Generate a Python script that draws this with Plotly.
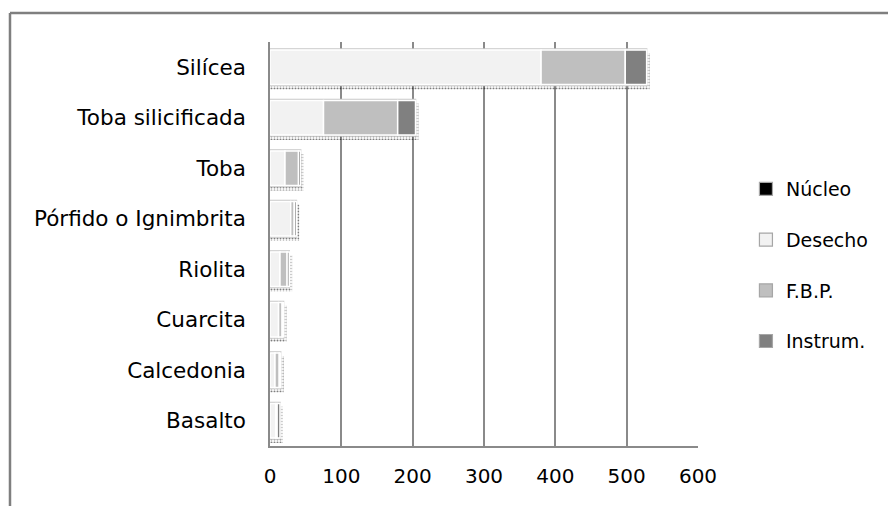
import numpy as np
import plotly.graph_objects as go

# Lithic material by raw-material type (counts per artefact class)
categories = ["Silícea", "Toba silicificada", "Toba", "Pórfido o Ignimbrita",
              "Riolita", "Cuarcita", "Calcedonia", "Basalto"]
nucleo = [0, 0, 0, 0, 0, 0, 0, 0]
desecho = [380, 75, 21, 29, 14, 12, 7, 8]
fbp = [118, 104, 19, 5, 10, 5, 6, 2]
instrum = [30, 25, 3, 3, 3, 2, 2, 4]
x_ticks = [0, 100, 200, 300, 400, 500, 600]

series = [("Núcleo", nucleo, "#000000"),
          ("Desecho", desecho, "#f2f2f2"),
          ("F.B.P.", fbp, "#bfbfbf"),
          ("Instrum.", instrum, "#808080")]

totals = np.sum([s[1] for s in series], axis=0)
FONT = "DejaVu Sans"

fig = go.Figure()

# dotted drop shadow behind each stacked bar
fig.add_trace(go.Bar(
    y=categories, x=totals + 4, base=0, orientation="h",
    width=0.72, offset=-0.28,
    marker=dict(color="white", line=dict(width=0),
                pattern=dict(shape=".", fgcolor="#000000", bgcolor="rgba(255,255,255,0)",
                             size=3, solidity=0.35)),
    showlegend=False, hoverinfo="skip"))

# white backing so the shadow only peeks out at the bottom and right
fig.add_trace(go.Bar(
    y=categories, x=totals, base=0, orientation="h",
    width=0.72, offset=-0.36,
    marker=dict(color="white", line=dict(color="#c8c8c8", width=1.5)),
    showlegend=False, hoverinfo="skip"))

cum = np.zeros(len(categories))
for name, vals, color in series:
    vals = np.array(vals, dtype=float)
    fig.add_trace(go.Bar(
        y=categories, x=vals, base=cum.copy(), orientation="h", name=name,
        width=0.68, offset=-0.34, legendgroup=name, showlegend=False,
        marker=dict(color=color, line=dict(color="#ffffff", width=1.5))))
    cum += vals
    # square legend key
    fig.add_trace(go.Scatter(
        x=[None], y=[None], mode="markers", name=name, legendgroup=name,
        marker=dict(symbol="square", size=13, color=color,
                    line=dict(color="#a6a6a6", width=1.2))))

fig.update_layout(
    width=888, height=506,
    margin=dict(l=270, r=190, t=42, b=60),
    barmode="overlay",
    plot_bgcolor="white", paper_bgcolor="white",
    font=dict(family=FONT, size=20, color="#000000"),
    legend=dict(x=1.112, y=0.683, xanchor="left", yanchor="top",
                tracegroupgap=23, itemwidth=30,
                font=dict(family=FONT, size=19), bgcolor="rgba(0,0,0,0)"),
    xaxis=dict(range=[0, 600], tickvals=x_ticks, showgrid=True,
               gridcolor="#8a8a8a", gridwidth=1.5, zeroline=False,
               showline=True, linecolor="#8a8a8a", linewidth=1.5,
               ticks="", ticklabelstandoff=11, fixedrange=True,
               tickfont=dict(size=20)),
    yaxis=dict(autorange="reversed", showgrid=False, showline=True,
               linecolor="#8a8a8a", linewidth=1.5, ticks="",
               ticklabelstandoff=18, tickfont=dict(size=21.5)),
)

# outer chart frame (left and top edges)
fig.add_shape(type="line", xref="paper", yref="paper",
              x0=-0.6075, x1=-0.6075, y0=1.072, y1=-0.2, line=dict(color="#7f7f7f", width=2.5))
fig.add_shape(type="line", xref="paper", yref="paper",
              x0=-0.6075, x1=1.45, y0=1.072, y1=1.072, line=dict(color="#7f7f7f", width=2.5))

fig.write_html("out.html")
